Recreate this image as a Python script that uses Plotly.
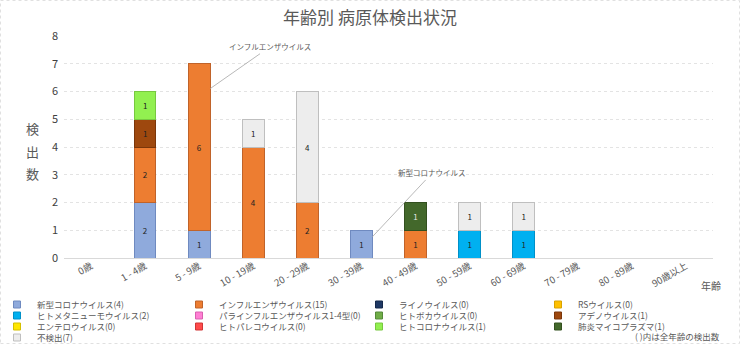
import plotly.graph_objects as go

categories = ["0歳", "1 - 4歳", "5 - 9歳", "10 - 19歳", "20 - 29歳", "30 - 39歳",
              "40 - 49歳", "50 - 59歳", "60 - 69歳", "70 - 79歳", "80 - 89歳", "90歳以上"]

covid19   = [0, 2, 1, 0, 0, 1, 0, 0, 0, 0, 0, 0]
influenza = [0, 2, 6, 4, 2, 0, 1, 0, 0, 0, 0, 0]
rhino     = [0, 0, 0, 0, 0, 0, 0, 0, 0, 0, 0, 0]
rsv       = [0, 0, 0, 0, 0, 0, 0, 0, 0, 0, 0, 0]
hmpv      = [0, 0, 0, 0, 0, 0, 0, 1, 1, 0, 0, 0]
parainflu = [0, 0, 0, 0, 0, 0, 0, 0, 0, 0, 0, 0]
boca      = [0, 0, 0, 0, 0, 0, 0, 0, 0, 0, 0, 0]
adeno     = [0, 1, 0, 0, 0, 0, 0, 0, 0, 0, 0, 0]
entero    = [0, 0, 0, 0, 0, 0, 0, 0, 0, 0, 0, 0]
parecho   = [0, 0, 0, 0, 0, 0, 0, 0, 0, 0, 0, 0]
hcov      = [0, 1, 0, 0, 0, 0, 0, 0, 0, 0, 0, 0]
mycoplasma= [0, 0, 0, 0, 0, 0, 1, 0, 0, 0, 0, 0]
notfound  = [0, 0, 0, 1, 4, 0, 0, 1, 1, 0, 0, 0]

series = [
    ("新型コロナウイルス", covid19, "#8FAADC", "#6F8AC0", "#222222"),
    ("インフルエンザウイルス", influenza, "#ED7D31", "#C0632A", "#222222"),
    ("ライノウイルス", rhino, "#1F3864", "#15284A", "#FFFFFF"),
    ("RSウイルス", rsv, "#FFC000", "#D9A300", "#222222"),
    ("ヒトメタニューモウイルス", hmpv, "#00B0F0", "#0090C8", "#222222"),
    ("パラインフルエンザウイルス1-4型", parainflu, "#FF7FD4", "#D960B0", "#222222"),
    ("ヒトボカウイルス", boca, "#70AD47", "#55893A", "#222222"),
    ("アデノウイルス", adeno, "#9E480E", "#7A360A", "#222222"),
    ("エンテロウイルス", entero, "#FFE600", "#D4BF00", "#222222"),
    ("ヒトパレコウイルス", parecho, "#FF4B4B", "#D03535", "#222222"),
    ("ヒトコロナウイルス", hcov, "#92F050", "#78C840", "#222222"),
    ("肺炎マイコプラズマ", mycoplasma, "#43682B", "#33501F", "#E8E8E8"),
    ("不検出", notfound, "#EDEDED", "#BFBFBF", "#222222"),
]

FONT = "Noto Sans CJK JP"
PLOT_L = 64.0
PLOT_W = 649.0
PLOT_H = 222.0
col_px = [-3, 179, 359, 538]       # legend column anchors (pixels)
row_top_px = [32, 43, 54, 65]      # legend row tops below the x axis (pixels)

fig = go.Figure()
legend_layout = {}
for i, (name, vals, color, line, tcol) in enumerate(series):
    yv = [v if v else None for v in vals]
    fig.add_trace(go.Bar(
        x=categories, y=yv, name=name, legendgroup=name, showlegend=False,
        marker=dict(color=color, line=dict(color=line, width=1)),
        text=[str(v) if v else "" for v in vals],
        textposition="inside", insidetextanchor="middle", textangle=0,
        textfont=dict(size=8, color=tcol, family=FONT),
        width=0.4,
    ))
    lid = "legend" if i == 0 else f"legend{i + 1}"
    fig.add_trace(go.Scatter(
        x=[None], y=[None], mode="markers", name=f"{name}({sum(vals)})",
        legendgroup=name, legend=lid,
        marker=dict(symbol="square", size=7, color=color, line=dict(color=line, width=1)),
    ))
    legend_layout[lid] = dict(
        orientation="h", xanchor="left", yanchor="top",
        x=(col_px[i % 4] - PLOT_L) / PLOT_W, y=-row_top_px[i // 4] / PLOT_H,
        font=dict(size=8.5, color="#595959", family=FONT),
        itemwidth=30, bgcolor="rgba(0,0,0,0)",
    )

fig.update_layout(
    barmode="stack",
    width=740, height=344,
    margin=dict(l=64, r=27, t=36, b=86, autoexpand=False),
    paper_bgcolor="#FFFFFF", plot_bgcolor="#FFFFFF",
    font=dict(family=FONT, color="#595959"),
    title=dict(text="年齢別 病原体検出状況", x=0.5, xanchor="center", y=0.948, yanchor="middle",
               font=dict(size=17, color="#595959", family=FONT)),
    showlegend=True,
    bargap=0.6,
    **legend_layout,
)
fig.update_xaxes(type="category", tickangle=-30, tickfont=dict(size=9.5, color="#595959"),
                 showgrid=False, showline=False, ticks="", automargin=False)
fig.update_yaxes(range=[0, 8], dtick=1, tickfont=dict(size=11, color="#404040"),
                 showgrid=True, gridcolor="#E3E3E3", griddash="dot", gridwidth=1,
                 zeroline=True, zerolinecolor="#D9D9D9", zerolinewidth=1,
                 showline=False, ticks="", automargin=False, ticklabelstandoff=5)

for ch, py in zip(["検", "出", "数"], [128, 151, 173]):
    fig.add_annotation(text=ch, xref="paper", yref="paper", x=(32 - PLOT_L) / PLOT_W,
                       y=(258 - py) / PLOT_H, xanchor="center", yanchor="middle",
                       showarrow=False, font=dict(size=13, color="#595959"))
fig.add_annotation(text="年齢", xref="paper", yref="paper", x=0.997, y=-0.125,
                   xanchor="center", yanchor="middle", showarrow=False,
                   font=dict(size=10, color="#595959"))
fig.add_annotation(text="( )内は全年齢の検出数", xref="paper", yref="paper", x=1.014, y=-0.352,
                   xanchor="right", yanchor="middle", showarrow=False,
                   font=dict(size=8.5, color="#595959"))
fig.add_annotation(text="インフルエンザウイルス", x=2.2, y=6.1, xref="x", yref="y",
                   ax=60, ay=-42, showarrow=True, arrowhead=0, arrowwidth=0.8,
                   arrowcolor="#A6A6A6", font=dict(size=7.5, color="#595959"))
fig.add_annotation(text="新型コロナウイルス", x=5.2, y=0.76, xref="x", yref="y",
                   ax=60, ay=-64, showarrow=True, arrowhead=0, arrowwidth=0.8,
                   arrowcolor="#A6A6A6", font=dict(size=7.5, color="#595959"))
fig.add_shape(type="rect", xref="paper", yref="paper", x0=-63.5/649, x1=1 + 26.5/649,
              y0=-85.5/222, y1=1 + 35.5/222, line=dict(color="#E0E0E0", width=1, dash="dot"))

fig.write_html("out.html")
